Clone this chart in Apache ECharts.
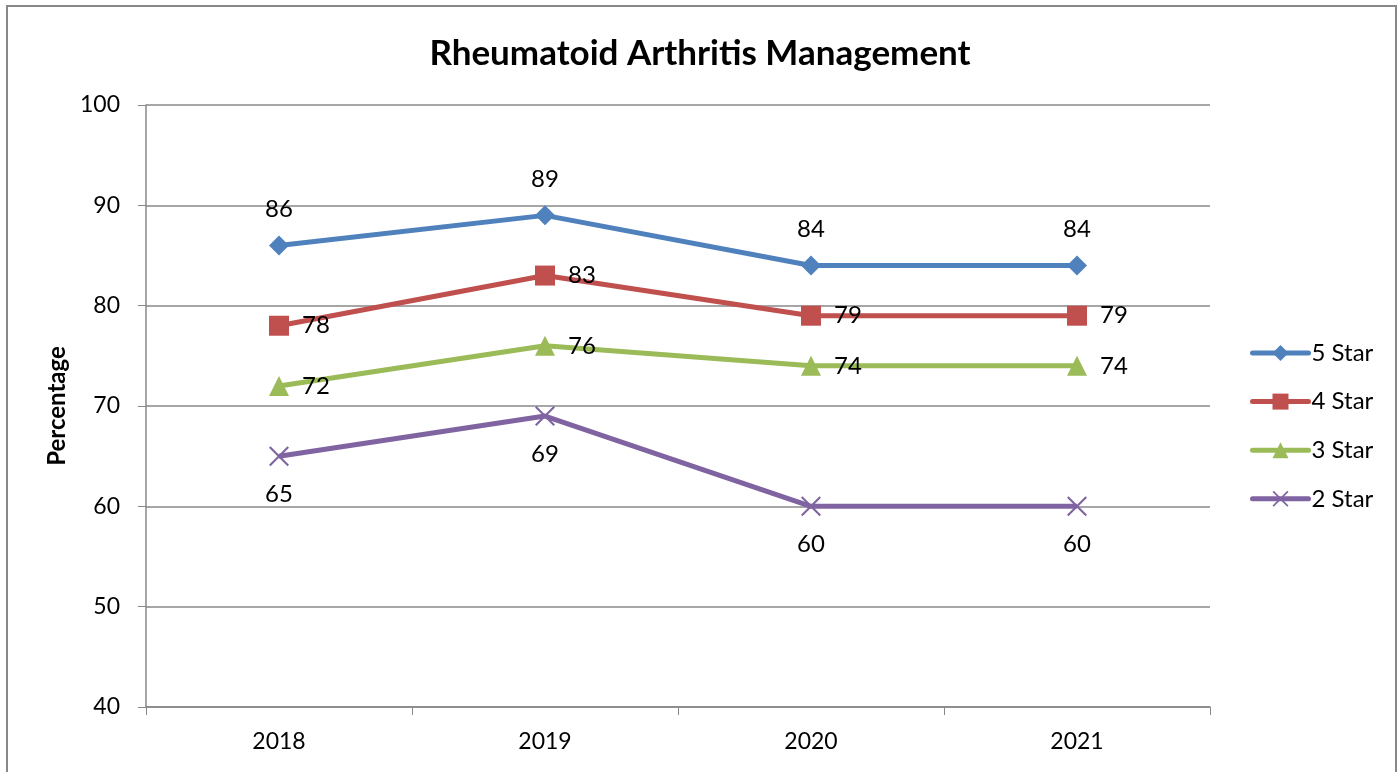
<!DOCTYPE html>
<html>
<head>
<meta charset="utf-8">
<script src="https://cdn.jsdelivr.net/npm/echarts@6/dist/echarts.min.js"></script>
<style>
  html, body { margin: 0; padding: 0; background: #fff; }
  #chart { width: 1400px; height: 772px; }
</style>
</head>
<body>
<div id="chart"></div>
<script>
var years = ['2018', '2019', '2020', '2021'];
var star5 = [86, 89, 84, 84];
var star4 = [78, 83, 79, 79];
var star3 = [72, 76, 74, 74];
var star2 = [65, 69, 60, 60];

var font = 'Lato, "Open Sans", sans-serif';
var crossPath = 'path://M0,1.5L1.5,0L10,8.5L18.5,0L20,1.5L11.5,10L20,18.5L18.5,20L10,11.5L1.5,20L0,18.5L8.5,10Z';
var labelGap = { top: 14, right: 13, bottom: 16 };

function line(name, data, color, symbol, size, pos) {
    return {
        name: name,
        type: 'line',
        data: data,
        symbol: symbol,
        symbolSize: size,
        showAllSymbol: true,
        lineStyle: { color: color, width: 5 },
        itemStyle: { color: color },
        label: {
            show: true,
            position: pos,
            distance: labelGap[pos],
            color: '#000',
            fontSize: 24,
            fontFamily: font
        },
        emphasis: { disabled: true }
    };
}

var chart = echarts.init(document.getElementById('chart'));
chart.setOption({
    animation: false,
    title: {
        text: 'Rheumatoid Arthritis Management',
        left: 'center',
        top: 31,
        textStyle: { fontSize: 35, fontWeight: 'bold', color: '#000', fontFamily: font }
    },
    graphic: [{
        type: 'rect',
        shape: { x: 7, y: 6, width: 1389, height: 820 },
        style: { fill: 'none', stroke: '#888', lineWidth: 2 },
        silent: true
    }],
    legend: {
        orient: 'vertical',
        left: 1250,
        top: 341,
        padding: 0,
        itemWidth: 56,
        itemHeight: 20,
        itemGap: 24.6,
        lineStyle: { width: 5, cap: 'round' },
        textStyle: { fontSize: 24, lineHeight: 20, color: '#000', fontFamily: font, padding: [0, 0, 0, -2] },
        data: ['5 Star', '4 Star', '3 Star', '2 Star']
    },
    grid: { left: 146, right: 190, top: 105, bottom: 65 },
    xAxis: {
        type: 'category',
        data: years,
        boundaryGap: true,
        axisLine: { lineStyle: { color: '#888', width: 1.5 } },
        axisTick: { show: true, length: 8, lineStyle: { color: '#888' } },
        axisLabel: { color: '#000', fontSize: 23, margin: 23, fontFamily: font }
    },
    yAxis: {
        type: 'value',
        min: 40,
        max: 100,
        interval: 10,
        name: 'Percentage',
        nameLocation: 'middle',
        nameGap: 75,
        nameTextStyle: { fontSize: 24, fontWeight: 'bold', color: '#000', fontFamily: font },
        axisLine: { show: true, lineStyle: { color: '#888', width: 1.5 } },
        axisTick: { show: true, length: 8, lineStyle: { color: '#888' } },
        axisLabel: { color: '#000', fontSize: 23, margin: 26, fontFamily: font },
        splitLine: { lineStyle: { color: '#888', width: 1.5 } }
    },
    series: [
        line('5 Star', star5, '#4F81BD', 'diamond', 20, 'top'),
        line('4 Star', star4, '#C0504D', 'rect', 20, 'right'),
        line('3 Star', star3, '#9BBB59', 'triangle', 20, 'right'),
        line('2 Star', star2, '#8064A2', crossPath, 20, 'bottom')
    ]
});
</script>
</body>
</html>
